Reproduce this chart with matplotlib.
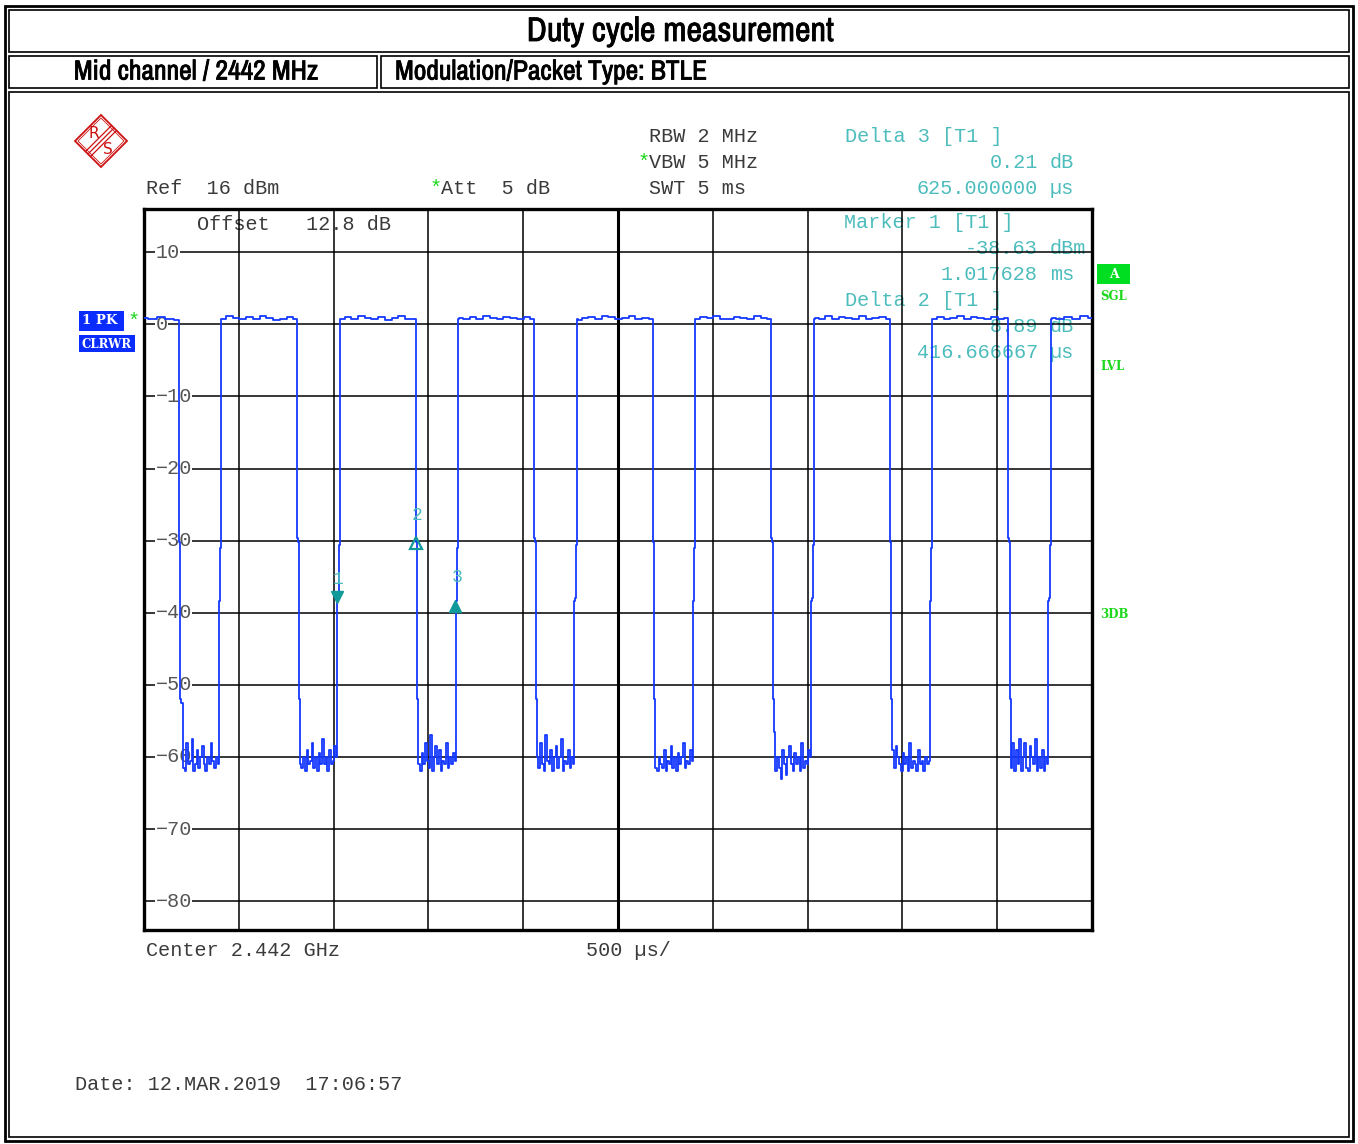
import numpy as np
import matplotlib.pyplot as plt
import matplotlib.transforms as mtransforms
import matplotlib.patheffects as pe
from matplotlib import font_manager
from matplotlib.patches import Rectangle, Polygon

# sweep: 5 ms, 500 us/div, ref 16 dBm, 10 dB/div
t_start, t_stop = 0, 5000
ref_lvl, db_bottom = 16, -84

# edge times (us)
fall_t = [180, 805, 1430, 2055, 2680, 3305, 3930, 4555]
rise_t = [393, 1018, 1643, 2268, 2893, 3518, 4143, 4768]

# level while the burst is on (dBm), one list per burst
high_vals = [
    [0.9, 0.7, 1.0, 0.8, 0.6],
    [0.8, 1.1, 0.9, 0.7, 1.0, 0.8, 1.2, 0.9, 0.6, 0.8, 1.0, 0.7],
    [0.7, 1.0, 0.8, 1.1, 0.9, 0.8, 1.0, 0.6, 0.9, 1.1, 0.8, 0.7],
    [0.9, 0.8, 1.0, 0.7, 1.1, 0.9, 0.8, 1.0, 0.9, 0.7, 1.0, 0.8],
    [0.6, 0.9, 1.0, 0.8, 1.1, 1.0, 0.8, 0.9, 1.1, 0.7, 0.9, 0.8],
    [0.8, 1.0, 0.9, 1.1, 0.8, 0.7, 1.0, 0.9, 0.8, 1.1, 0.9, 0.7],
    [0.9, 0.7, 1.1, 0.8, 1.0, 0.9, 0.8, 1.1, 0.7, 0.9, 1.0, 0.8],
    [0.8, 1.0, 0.7, 0.9, 1.1, 0.8, 1.0, 0.9, 0.7, 1.0, 0.8, 0.9],
    [0.9, 0.8, 1.0, 0.8, 1.1, 0.9],
]

# noise floor between bursts (dBm), one list per gap
low_vals = [
    [-52.5, -61.5, -62, -58, -61, -60.5, -57.5, -62, -61, -59, -61.5, -60, -58.5, -61, -62, -60, -61, -58, -60.5, -61.5, -60, -61],
    [-61, -61.5, -60, -62, -59, -61, -60.5, -58, -61.5, -60, -62, -59.5, -61, -57.5, -61, -60, -62, -59, -61, -60.5, -58.5, -60],
    [-61, -62, -59.5, -61, -58, -60.5, -61.5, -57, -62, -60, -58.5, -61, -59, -62, -60.5, -61, -58, -61.5, -60, -61, -59.5, -60.5],
    [-60, -61.5, -58, -61, -62, -57, -60.5, -61, -59, -62, -60, -58.5, -61.5, -60, -57.5, -62, -60.5, -61, -59, -61.5, -60, -61],
    [-61.5, -62, -60, -61, -61.5, -59, -62, -60.5, -61, -58.5, -61.5, -60, -62, -59.5, -61, -60, -58, -61.5, -60.5, -61, -59, -60.5],
    [-56.5, -62, -60, -61.5, -63, -59, -61, -62.5, -60, -58.5, -61, -62, -59.5, -61, -60, -62, -58, -61.5, -60.5, -61, -59, -60],
    [-59, -61.5, -58.5, -60, -61, -62, -59.5, -61, -60, -62, -58, -61.5, -60.5, -61, -62, -59, -61, -60.5, -62, -60, -61, -60.5],
    [-61.5, -58, -62, -59, -61, -57.5, -62, -60, -58, -61.5, -62, -58.5, -60, -61, -57.5, -62, -60, -61.5, -59, -62, -60, -61],
]

# edge shapes (time after edge in us, level in dBm)
rise_dt = [4, 7, 10, 13, 18]
rise_db = [-38.4, -38.0, -31.0, -30.6, 0.8]
fall_dt = [5, 8, 14]
fall_db = [-29.7, -30.2, -52.0]

# markers
m1_t, m1_v = 1017.628, -38.63
m2_t, m2_v = m1_t + 416.666667, m1_v + 8.89
m3_t, m3_v = m1_t + 625.0, m1_v + 0.21

y_ticks = [10, 0, -10, -20, -30, -40, -50, -60, -70, -80]

# build the trace
t_tr, v_tr = [], []
seg_start = t_start
for i in range(len(high_vals)):
    seg_end = fall_t[i] if i < len(fall_t) else t_stop
    t_tr += list(np.linspace(seg_start, seg_end, len(high_vals[i])))
    v_tr += high_vals[i]
    if i < len(fall_t):
        t_tr += [fall_t[i] + d for d in fall_dt]
        v_tr += fall_db
        lo = low_vals[i]
        t_tr += list(np.linspace(fall_t[i] + fall_dt[-1] + 6, rise_t[i], len(lo)))
        v_tr += lo
        t_tr += [rise_t[i] + d for d in rise_dt]
        v_tr += rise_db
        seg_start = rise_t[i] + rise_dt[-1] + 4

# header font: a narrow sans, thickened with a thin stroke
narrow = None
for f in font_manager.fontManager.ttflist:
    nm = (f.name + ' ' + f.fname).lower()
    if ('narrow' in nm or 'condensed' in nm or str(f.stretch) in ('condensed', 'semi-condensed')) \
            and 'mono' not in nm and 'serif' not in f.name.lower():
        narrow = f.name
        if 'narrow' in nm:
            break
if narrow:
    head_kw = dict(family=narrow, fontstretch='condensed',
                   path_effects=[pe.withStroke(linewidth=0.6, foreground='black')])
    title_fs, sub_fs = 24.5, 19.8
else:
    head_kw = dict(family='Liberation Sans', fontweight='bold')
    title_fs, sub_fs = 18.5, 15.5

W, H = 1358, 1144
fig = plt.figure(figsize=(W / 100, H / 100), dpi=100)

mono = 'Liberation Mono'
grey = '#3a3a3a'
cyan = '#4cbcbc'
green = '#1ed81e'
blue = '#1438ff'
teal = '#129a9a'
fs = 14.5

# background axes in pixel coords
bg = fig.add_axes([0, 0, 1, 1], zorder=0)
bg.set_xlim(0, W)
bg.set_ylim(H, 0)
bg.axis('off')

def box(x0, y0, x1, y1, lw):
    bg.add_patch(Rectangle((x0, y0), x1 - x0, y1 - y0, fill=False, ec='black', lw=lw))

box(5, 6, 1353, 1141, 2.0)
box(9, 10, 1349, 52, 1.2)
box(9, 56, 377, 88, 1.2)
box(381, 56, 1349, 88, 1.2)
box(9, 92, 1349, 1137, 1.2)

bg.text(680, 32, 'Duty cycle measurement', ha='center', va='center',
        fontsize=title_fs, **head_kw)
bg.text(196, 72, 'Mid channel / 2442 MHz', ha='center', va='center',
        fontsize=sub_fs, **head_kw)
bg.text(395, 72, 'Modulation/Packet Type: BTLE', ha='left', va='center',
        fontsize=sub_fs, **head_kw)

# R&S logo
red = '#cc1111'
cx, cy, r = 101, 141, 26
bg.add_patch(Polygon([(cx, cy - r), (cx + r, cy), (cx, cy + r), (cx - r, cy)],
                     closed=True, fill=False, ec=red, lw=1.3))
bg.add_patch(Polygon([(cx, cy - r + 3), (cx + r - 3, cy), (cx, cy + r - 3), (cx - r + 3, cy)],
                     closed=True, fill=False, ec=red, lw=0.6))
for d in [-2.5, 0, 2.5]:
    bg.plot([cx + r / 2 + d, cx - r / 2 + d], [cy - r / 2 + d, cy + r / 2 + d], color=red, lw=0.9)
bg.text(cx - 7, cy - 8, 'R', color=red, fontsize=11, ha='center', va='center', family='DejaVu Sans')
bg.text(cx + 7, cy + 8, 'S', color=red, fontsize=11, ha='center', va='center', family='DejaVu Sans')

# settings text
bg.text(649, 136, 'RBW 2 MHz', color=grey, fontsize=fs, family=mono, va='center')
bg.text(637, 162, '*', color=green, fontsize=fs, family=mono, va='center')
bg.text(649, 162, 'VBW 5 MHz', color=grey, fontsize=fs, family=mono, va='center')
bg.text(649, 188, 'SWT 5 ms', color=grey, fontsize=fs, family=mono, va='center')
bg.text(146, 188, 'Ref  16 dBm', color=grey, fontsize=fs, family=mono, va='center')
bg.text(429, 188, '*', color=green, fontsize=fs, family=mono, va='center')
bg.text(441, 188, 'Att  5 dB', color=grey, fontsize=fs, family=mono, va='center')
bg.text(197, 224, 'Offset   12.8 dB', color=grey, fontsize=fs, family=mono, va='center')
bg.text(146, 950, 'Center 2.442 GHz', color=grey, fontsize=fs, family=mono, va='center')
bg.text(586, 950, '500 µs/', color=grey, fontsize=fs, family=mono, va='center')
bg.text(75, 1084, 'Date: 12.MAR.2019  17:06:57', color=grey, fontsize=fs, family=mono, va='center')

# marker readout
bg.text(845, 136, 'Delta 3 [T1 ]', color=cyan, fontsize=fs, family=mono, va='center')
bg.text(844, 222, 'Marker 1 [T1 ]', color=cyan, fontsize=fs, family=mono, va='center')
bg.text(845, 300, 'Delta 2 [T1 ]', color=cyan, fontsize=fs, family=mono, va='center')
readout = [
    (162, '%.2f' % 0.21, 'dB'),
    (188, '%.6f' % 625.0, 'µs'),
    (248, '%.2f' % m1_v, 'dBm'),
    (274, '%.6f' % (m1_t / 1000), 'ms'),
    (326, '%.2f' % 8.89, 'dB'),
    (352, '%.6f' % 416.666667, 'µs'),
]
for y, num, unit in readout:
    bg.text(1038, y, num, color=cyan, fontsize=fs, family=mono, va='center', ha='right')
    bg.text(1050, y, unit, color=cyan, fontsize=fs, family=mono, va='center', ha='left')

# trace labels on the left
bg.add_patch(Rectangle((79, 311), 45, 20, color='#0a2cff', lw=0))
bg.text(82, 321, '1 PK', color='white', fontsize=9.5, fontweight='bold',
        family='DejaVu Serif', va='center')
bg.add_patch(Rectangle((79, 335), 56, 17, color='#0a2cff', lw=0))
bg.text(81, 344, 'CLRWR', color='white', fontsize=8.5, fontweight='bold',
        family='DejaVu Serif', va='center')
bg.text(134, 321, '*', color=green, fontsize=fs, family=mono, va='center', ha='center')

# status labels on the right
bg.add_patch(Rectangle((1097, 264), 33, 20, color='#00de22', lw=0))
bg.text(1114, 275, 'A', color='white', fontsize=9, fontweight='bold',
        family='DejaVu Serif', va='center', ha='center')
for y, s in [(297, 'SGL'), (366, 'LVL'), (615, '3DB')]:
    bg.text(1100, y, s, color=green, fontsize=8.5, fontweight='bold',
            family='DejaVu Serif', va='center')

# measurement axes
ax = fig.add_axes([144 / W, (H - 930) / H, 948 / W, 721 / H], zorder=2)
ax.set_facecolor('none')
ax.set_xlim(t_start, t_stop)
ax.set_ylim(db_bottom, ref_lvl)
ax.set_xticks([])
ax.set_yticks([])
for s in ax.spines.values():
    s.set_linewidth(2.4)

for k in range(1, 10):
    ax.axvline(k * 500, color='black', lw=2.2 if k == 5 else 1.1, zorder=1)
for yv in y_ticks:
    ax.axhline(yv, color='black', lw=1.1, zorder=1)
    lbl = str(yv).replace('-', '\u2212')
    ax.text(0.012, yv, lbl, transform=ax.get_yaxis_transform(), color='#555555',
            fontsize=fs, family=mono, va='center', ha='left', zorder=2,
            bbox=dict(facecolor='white', edgecolor='none', pad=0.3))

ax.plot(t_tr, v_tr, color=blue, lw=1.3, drawstyle='steps-mid', zorder=4)

# markers
down = mtransforms.offset_copy(ax.transData, fig=fig, x=0, y=4.5, units='points')
up = mtransforms.offset_copy(ax.transData, fig=fig, x=0, y=-3, units='points')
ax.plot(m1_t, m1_v, marker='v', color=teal, ms=8, transform=down, zorder=5)
ax.plot(m2_t, m2_v, marker='^', mfc='none', mec=teal, mew=1.6, ms=8, transform=up, zorder=5)
ax.plot(m3_t, m3_v, marker='^', color=teal, ms=8, transform=up, zorder=5)
for t, v, n in [(m1_t, m1_v, '1'), (m2_t, m2_v, '2'), (m3_t, m3_v, '3')]:
    lab = mtransforms.offset_copy(ax.transData, fig=fig, x=1, y=17, units='points')
    ax.text(t, v, n, transform=lab, color=cyan, fontsize=13, family=mono,
            ha='center', va='center', zorder=5)

fig.savefig('out.png', dpi=100)
